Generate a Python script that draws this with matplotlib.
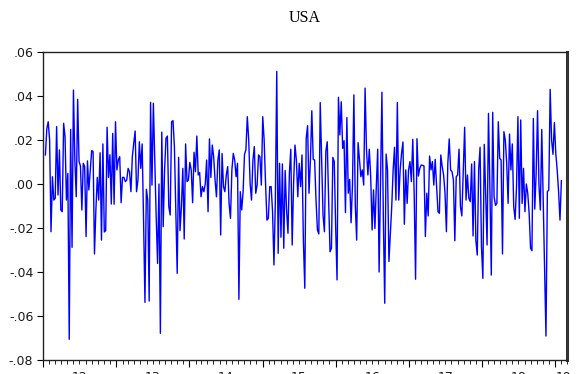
import matplotlib
matplotlib.use("Agg")
import matplotlib.pyplot as plt
import matplotlib.dates as mdates
import matplotlib.transforms as mtransforms
import pandas as pd

# Weekly returns, USA, first part (2012 - mid 2015)
returns_a = [
    0.0132, 0.0250, 0.0283, 0.0200, -0.0217, 0.0033, -0.0073, -0.0065, 0.0261, -0.0050,
    0.0155, -0.0118, -0.0126, 0.0276, 0.0215, -0.0073, 0.0048, -0.0706, 0.0248, -0.0288,
    0.0427, 0.0109, -0.0058, 0.0385, 0.0102, 0.0082, -0.0118, 0.0094, 0.0079, -0.0239,
    0.0105, -0.0027, 0.0064, 0.0152, 0.0147, -0.0318, -0.0118, 0.0030, -0.0073, 0.0142,
    -0.0255, 0.0182, -0.0218, -0.0212, 0.0258, 0.0030, 0.0133, -0.0091, 0.0230, -0.0092,
    0.0283, 0.0064, 0.0109, 0.0124, -0.0085, 0.0030, 0.0030, 0.0011, 0.0018, 0.0071,
    0.0056, -0.0035, 0.0124, 0.0185, 0.0241, -0.0035, 0.0018, 0.0192, 0.0071, 0.0182,
    -0.0164, -0.0538, -0.0024, -0.0073, -0.0532, 0.0371, -0.0005, 0.0367, 0.0109, -0.0148,
    -0.0361, 0.0000, -0.0679, 0.0236, -0.0194, 0.0064, 0.0208, 0.0218, -0.0103, -0.0141,
    0.0283, 0.0288, 0.0170, -0.0118, -0.0406, 0.0121, -0.0212, -0.0103, 0.0071, -0.0250,
    0.0182, 0.0011, 0.0018, 0.0098, 0.0064, -0.0085, 0.0144, 0.0056, 0.0218, 0.0041,
    0.0052, -0.0058, -0.0012, -0.0035, 0.0000, 0.0109, -0.0126, 0.0205, 0.0030, 0.0177,
    0.0124, 0.0018, -0.0058, 0.0109, 0.0155, -0.0232, 0.0139, -0.0012, -0.0035, 0.0041,
    0.0079, -0.0088, -0.0156, 0.0064, 0.0139, 0.0109, 0.0033, 0.0094, -0.0524, -0.0035,
    -0.0118, -0.0035, 0.0135, 0.0155, 0.0306, 0.0200, 0.0003, -0.0073, 0.0109, 0.0170,
    -0.0042, -0.0005, 0.0132, 0.0124, -0.0005, 0.0306, 0.0200, 0.0003, -0.0164, -0.0156,
    -0.0012, -0.0012, -0.0126, -0.0368, -0.0080, 0.0512, -0.0315, 0.0094, -0.0242, 0.0091,
    -0.0292, 0.0061, -0.0118, -0.0224, 0.0048, 0.0158, -0.0277, 0.0003, 0.0177, 0.0109,
    -0.0058, 0.0094, -0.0012, 0.0132, -0.0262,
]

# Weekly returns, USA, second part (mid 2015 - early 2019)
returns_b = [
    -0.0474, 0.0208, 0.0265, -0.0042, 0.0109, 0.0333, 0.0112, 0.0109, -0.0073, -0.0209,
    -0.0227, 0.0370, 0.0109, -0.0141, -0.0217, 0.0147, 0.0192, -0.0073, -0.0308, -0.0292,
    0.0121, 0.0102, -0.0194, -0.0436, 0.0394, 0.0223, 0.0374, 0.0162, 0.0197, -0.0130,
    0.0302, -0.0042, 0.0021, -0.0176, -0.0005, 0.0405, -0.0095, -0.0255, 0.0188, 0.0109,
    0.0033, 0.0064, -0.0005, 0.0436, 0.0155, 0.0041, 0.0158, 0.0033, -0.0209, -0.0027,
    -0.0202, -0.0012, 0.0158, -0.0400, 0.0003, 0.0417, -0.0148, -0.0542, 0.0136, 0.0064,
    -0.0352, -0.0224, -0.0103, 0.0064, 0.0167, -0.0073, 0.0370, -0.0073, 0.0064, 0.0139,
    0.0191, -0.0183, 0.0064, -0.0088, 0.0064, 0.0102, 0.0011, 0.0203, -0.0042, -0.0433,
    0.0206, 0.0036, 0.0071, 0.0086, 0.0085, 0.0082, -0.0239, -0.0042, -0.0145, 0.0127,
    0.0064, 0.0102, -0.0005, 0.0112, -0.0012, -0.0126, -0.0133, 0.0132, 0.0079, 0.0041,
    -0.0042, -0.0217, 0.0094, 0.0205, 0.0064, 0.0056, 0.0018, -0.0258, 0.0033, 0.0041,
    0.0158, -0.0103, -0.0145, 0.0056, 0.0258, -0.0073, 0.0041, -0.0065, -0.0080, 0.0091,
    -0.0236, 0.0102, -0.0255, -0.0323, 0.0064, 0.0167, -0.0285, -0.0429, 0.0180, -0.0042,
    -0.0277, 0.0321, -0.0012, -0.0414, 0.0326, -0.0058, -0.0097, -0.0088, 0.0283, 0.0117,
    0.0109, -0.0318, 0.0238, 0.0200, 0.0094, -0.0088, 0.0227, 0.0064, 0.0182, -0.0103,
    -0.0161, -0.0012, 0.0306, -0.0156, 0.0291, -0.0088, 0.0071, -0.0126, 0.0000, -0.0042,
    -0.0133, -0.0292, -0.0303, 0.0298, -0.0114, 0.0048, 0.0333, -0.0005, -0.0118, 0.0248,
    -0.0058, -0.0361, -0.0691, -0.0035, -0.0027, 0.0430, 0.0200, 0.0135, 0.0279, 0.0139,
    0.0064, -0.0035, -0.0164, 0.0015,
]

y_ticks = [-0.08, -0.06, -0.04, -0.02, 0.00, 0.02, 0.04, 0.06]
y_labels = ["-.08", "-.06", "-.04", "-.02", ".00", ".02", ".04", ".06"]
year_labels = ["12", "13", "14", "15", "16", "17", "18", "19"]

values = returns_a + returns_b
dates = pd.date_range(start="2012-01-13", periods=len(values), freq="W-FRI")

fig = plt.figure(figsize=(5.82, 3.74), dpi=100)
ax = fig.add_axes([43 / 582, 1 - 360 / 374, (567 - 43) / 582, (360 - 52) / 374])

ax.plot(dates, values, color="#0000FF", linewidth=1.0)

ax.set_ylim(-0.08, 0.06)
ax.set_xlim(pd.Timestamp("2012-01-01"), pd.Timestamp("2019-03-01"))

ax.set_yticks(y_ticks)
ax.set_yticklabels(y_labels, fontfamily="DejaVu Sans", fontsize=9, color="#1a1a1a")
ax.tick_params(axis="y", direction="out", length=4, width=0.8, pad=3)

# Year boundaries as major ticks, months as minor ticks
ax.xaxis.set_major_locator(mdates.YearLocator())
ax.xaxis.set_minor_locator(mdates.MonthLocator())
ax.xaxis.set_major_formatter(plt.NullFormatter())
ax.tick_params(axis="x", which="major", direction="out", length=5, width=0.8)
ax.tick_params(axis="x", which="minor", direction="out", length=3, width=0.6)

# Year labels centred in each year's span
trans = mtransforms.blended_transform_factory(ax.transData, ax.transAxes)
for i, lab in enumerate(year_labels):
    yr = 2012 + i
    if yr < 2019:
        pos = pd.Timestamp(f"{yr}-07-01")
    else:
        pos = pd.Timestamp(f"{yr}-02-10")
    ax.text(mdates.date2num(pos), -0.035, lab, transform=trans, ha="center", va="top",
            fontfamily="DejaVu Sans", fontsize=9, color="#1a1a1a", clip_on=False)

for side in ["left", "top", "bottom"]:
    ax.spines[side].set_color("#222222")
    ax.spines[side].set_linewidth(1.0)
ax.spines["right"].set_color("#333333")
ax.spines["right"].set_linewidth(2.2)

fig.text((43 + 567) / 2 / 582, 1 - 18 / 374, "USA", ha="center", va="center",
         fontfamily="Liberation Serif", fontsize=11.5)

fig.savefig("out.png", dpi=100)
